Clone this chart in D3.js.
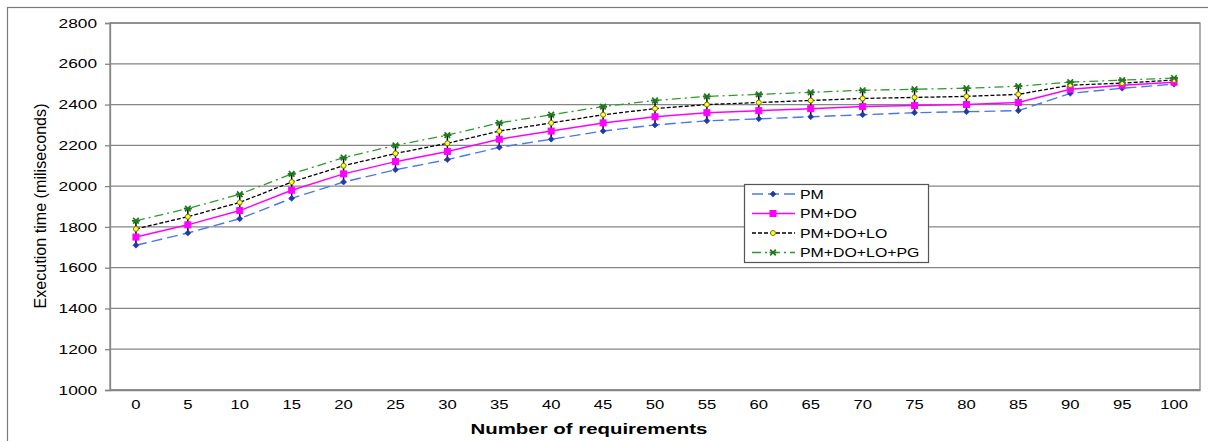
<!DOCTYPE html>
<html>
<head>
<meta charset="utf-8">
<script src="https://cdn.jsdelivr.net/npm/d3@7"></script>
<style>
  html, body { margin: 0; padding: 0; background: #fff; }
  svg { display: block; font-family: "Liberation Sans", Arial, sans-serif; }
</style>
</head>
<body>
<svg id="chart" width="1208" height="441"></svg>
<script>
// ---- data ----
const categories = ["0","5","10","15","20","25","30","35","40","45","50","55","60","65","70","75","80","85","90","95","100"];
const pm        = [1710,1770,1840,1940,2020,2080,2130,2190,2230,2270,2300,2320,2330,2340,2350,2360,2365,2370,2455,2480,2500];
const pmDo      = [1750,1810,1880,1980,2060,2120,2170,2230,2270,2310,2340,2360,2370,2380,2390,2395,2400,2410,2475,2495,2510];
const pmDoLo    = [1790,1850,1920,2020,2100,2160,2210,2270,2310,2350,2380,2400,2410,2420,2430,2435,2440,2450,2495,2505,2520];
const pmDoLoPg  = [1830,1890,1960,2060,2140,2200,2250,2310,2350,2390,2420,2440,2450,2460,2470,2475,2480,2490,2510,2520,2530];
const yTicks    = [1000,1200,1400,1600,1800,2000,2200,2400,2600,2800];
const seriesNames = ["PM","PM+DO","PM+DO+LO","PM+DO+LO+PG"];
const xTitle = "Number of requirements";
const yTitle = "Execution time (miliseconds)";

const series = [
  {name: seriesNames[0], values: pm,       line: "#4a78e8", dash: "11,5",      width: 1.4, marker: "diamond", mfill: "#1c3aa8", mstroke: "#1c3aa8"},
  {name: seriesNames[1], values: pmDo,     line: "#ff00ff", dash: null,        width: 1.5, marker: "square",  mfill: "#ff00ff", mstroke: "#ff00ff"},
  {name: seriesNames[2], values: pmDoLo,   line: "#000000", dash: "4,2",       width: 1.3, marker: "circle",  mfill: "#ffff33", mstroke: "#7a7a00"},
  {name: seriesNames[3], values: pmDoLoPg, line: "#2e9a2e", dash: "9,4,2,4",   width: 1.3, marker: "cross",   mfill: "#1f8a1f", mstroke: "#1f7a1f"}
];

const svg = d3.select("#chart");
const plot = {left: 110, right: 1200, top: 23, bottom: 390};

// outer frame
svg.append("rect").attr("x", 7.5).attr("y", 7.5).attr("width", 1300).attr("height", 600)
  .attr("fill", "#fff").attr("stroke", "#7a7a7a").attr("stroke-width", 1.2);

const x = d3.scaleBand().domain(categories).range([plot.left, plot.right]).padding(0);
const xc = c => x(c) + x.bandwidth() / 2;
const y = d3.scaleLinear().domain([1000, 2800]).range([plot.bottom, plot.top]);

function stretch(sel, factor) {
  sel.each(function() {
    const len = this.getComputedTextLength();
    d3.select(this).attr("textLength", len * factor).attr("lengthAdjust", "spacingAndGlyphs");
  });
}

// gridlines
svg.append("g").selectAll("line").data(yTicks).join("line")
  .attr("x1", plot.left).attr("x2", plot.right)
  .attr("y1", d => y(d)).attr("y2", d => y(d))
  .attr("stroke", "#858585").attr("stroke-width", 1.3);

// plot border
svg.append("rect").attr("x", plot.left).attr("y", plot.top)
  .attr("width", plot.right - plot.left).attr("height", plot.bottom - plot.top)
  .attr("fill", "none").attr("stroke", "#858585").attr("stroke-width", 1.3);

// y axis
const yAxis = svg.append("g").attr("transform", `translate(${plot.left},0)`)
  .call(d3.axisLeft(y).tickValues(yTicks).tickSize(5).tickPadding(8).tickFormat(d3.format("d")));
yAxis.select(".domain").attr("stroke", "#858585").attr("stroke-width", 1.3);
yAxis.selectAll(".tick line").attr("stroke", "#858585").attr("stroke-width", 1.3);
yAxis.selectAll("text").attr("font-size", 13).attr("fill", "#000")
  .attr("font-family", "Liberation Sans, Arial, sans-serif");
stretch(yAxis.selectAll("text"), 1.33);

// x axis
const xAxis = svg.append("g").attr("transform", `translate(0,${plot.bottom})`)
  .call(d3.axisBottom(x).tickSize(0).tickPadding(10));
xAxis.select(".domain").attr("stroke", "#858585").attr("stroke-width", 1.3);
xAxis.selectAll("text").attr("font-size", 12.5).attr("fill", "#000")
  .attr("font-family", "Liberation Sans, Arial, sans-serif");
stretch(xAxis.selectAll("text"), 1.33);

// axis titles
const xt = svg.append("text").attr("x", 589).attr("y", 434).attr("text-anchor", "middle")
  .attr("font-size", 15).attr("font-weight", "bold").attr("fill", "#000").text(xTitle);
stretch(xt, 1.36);
const yt = svg.append("text").attr("transform", `translate(46,206) rotate(-90)`)
  .attr("text-anchor", "middle").attr("font-size", 17).attr("fill", "#000").text(yTitle);
yt.attr("textLength", 205).attr("lengthAdjust", "spacingAndGlyphs");

// error bars
const eb = svg.append("g");
categories.forEach((c, i) => {
  eb.append("line").attr("x1", xc(c)).attr("x2", xc(c))
    .attr("y1", y(pm[i])).attr("y2", y(pmDoLoPg[i]))
    .attr("stroke", "#000").attr("stroke-width", 1.5);
  eb.append("line").attr("x1", xc(c) - 4).attr("x2", xc(c) + 4)
    .attr("y1", y(pmDoLoPg[i])).attr("y2", y(pmDoLoPg[i]))
    .attr("stroke", "#1a5a1a").attr("stroke-width", 1.5);
});

// marker drawing
function drawMarker(g, s, cx, cy) {
  if (s.marker === "diamond") {
    g.append("path").attr("d", `M${cx},${cy-3}L${cx+3},${cy}L${cx},${cy+3}L${cx-3},${cy}Z`)
      .attr("fill", s.mfill).attr("stroke", s.mstroke).attr("stroke-width", 0.6);
  } else if (s.marker === "square") {
    g.append("rect").attr("x", cx - 3).attr("y", cy - 3).attr("width", 6).attr("height", 6)
      .attr("fill", s.mfill).attr("stroke", s.mstroke);
  } else if (s.marker === "circle") {
    g.append("circle").attr("cx", cx).attr("cy", cy).attr("r", 2.5)
      .attr("fill", s.mfill).attr("stroke", s.mstroke).attr("stroke-width", 1);
  } else {
    g.append("path").attr("d", `M${cx-2.8},${cy-2.8}L${cx+2.8},${cy+2.8}M${cx+2.8},${cy-2.8}L${cx-2.8},${cy+2.8}M${cx-3.5},${cy}L${cx+3.5},${cy}`)
      .attr("stroke", s.mstroke).attr("stroke-width", 1.7);
  }
}

// series lines
const line = d3.line().x((d, i) => xc(categories[i])).y(d => y(d));
series.forEach(s => {
  svg.append("path").datum(s.values).attr("d", line)
    .attr("fill", "none").attr("stroke", s.line).attr("stroke-width", s.width)
    .attr("stroke-dasharray", s.dash);
});
series.forEach(s => {
  const g = svg.append("g");
  s.values.forEach((v, i) => drawMarker(g, s, xc(categories[i]), y(v)));
});

// legend
const lg = svg.append("g");
lg.append("rect").attr("x", 744.5).attr("y", 184.5).attr("width", 184).attr("height", 78)
  .attr("fill", "#fff").attr("stroke", "#555").attr("stroke-width", 1.2);
series.forEach((s, i) => {
  const cy = 194 + i * 19.5;
  lg.append("line").attr("x1", 752).attr("x2", 795).attr("y1", cy).attr("y2", cy)
    .attr("stroke", s.line).attr("stroke-width", s.width).attr("stroke-dasharray", s.dash);
  drawMarker(lg, s, 773, cy);
  const t = lg.append("text").attr("x", 800).attr("y", cy + 4.6).attr("font-size", 13)
    .attr("fill", "#000").text(s.name);
  stretch(t, 1.22);
});
</script>
</body>
</html>
